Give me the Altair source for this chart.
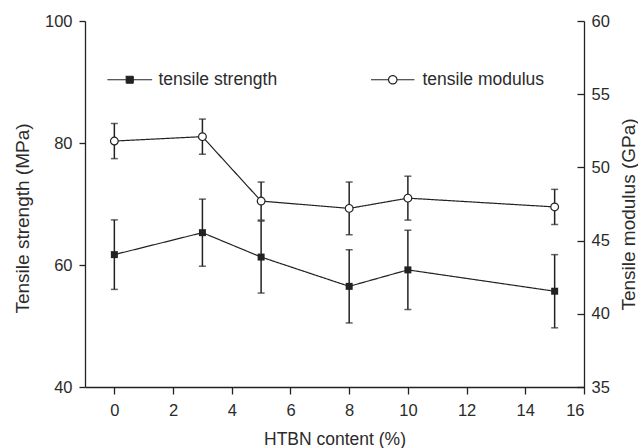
import altair as alt
import pandas as pd

# HTBN loading (%) and measured tensile properties
content = [0, 3, 5, 8, 10, 15]
strength = [61.7, 65.3, 61.3, 56.5, 59.2, 55.7]        # MPa
strength_err = [5.7, 5.5, 5.9, 6.0, 6.5, 6.0]
modulus = [51.8, 52.1, 47.7, 47.2, 47.9, 47.3]         # GPa
modulus_err = [1.2, 1.2, 1.3, 1.8, 1.5, 1.2]

x_ticks = [0, 2, 4, 6, 8, 10, 12, 14, 16]
strength_ticks = [40, 60, 80, 100]
modulus_ticks = [35, 40, 45, 50, 55, 60]

INK = "#222222"
TEXT = "#2b2b2b"
FONT = "Liberation Sans"
W, H = 499, 366

df = pd.DataFrame({
    "content": content,
    "strength": strength,
    "strength_err": strength_err,
    "modulus": modulus,
    "modulus_err": modulus_err,
    "s_name": ["tensile strength"] * len(content),
    "m_name": ["tensile modulus"] * len(content),
})

# legend glyphs: a short line with the marker in the middle
SQUARE_KEY = "M-6.4,0H6.4M-1,-1H1V1H-1Z"
CIRCLE_KEY = ("M-6.2,0H-1.2M1.2,0H6.2M1.2,0"
              "A1.2,1.2,0,1,1,-1.2,0A1.2,1.2,0,1,1,1.2,0Z")

axis_common = dict(
    grid=False,
    domainColor=INK, domainWidth=1.3,
    tickColor=INK, tickWidth=1.3,
    labelFont=FONT, labelFontSize=16.5, labelColor=TEXT,
    titleFont=FONT, titleFontWeight="normal", titleColor=TEXT,
)

x_enc = alt.X(
    "content:Q",
    scale=alt.Scale(domain=[-1, 16], nice=False, zero=False),
    axis=alt.Axis(
        values=x_ticks, title="HTBN content (%)", tickSize=7, labelPadding=8,
        titleFontSize=17.5, titleY=52, titleBaseline="middle", **axis_common,
    ),
)

base = alt.Chart(df)


def legend_for(path, lx, offset, fill):
    return alt.Legend(
        title=None, orient="none", legendX=lx, legendY=50, padding=0,
        symbolType=path, symbolSize=49, symbolStrokeColor=INK,
        symbolFillColor=fill, symbolStrokeWidth=1.2, labelOffset=offset,
        labelFont=FONT, labelFontSize=17.5, labelColor=TEXT,
    )


def series_layer(value, err, name, scale, axis, point, key, lx, offset, key_fill):
    """Error bars, connecting line and markers for one property."""
    bars = base.transform_calculate(
        lo=f"datum.{value} - datum.{err}",
        hi=f"datum.{value} + datum.{err}",
    )
    rule = bars.mark_rule(color=INK, strokeWidth=1.5).encode(
        x=x_enc, y=alt.Y("lo:Q", scale=scale, axis=axis), y2="hi:Q")
    cap_lo = bars.mark_tick(color=INK, thickness=1.5, size=7, orient="horizontal").encode(
        x=x_enc, y=alt.Y("lo:Q", scale=scale, axis=axis))
    cap_hi = bars.mark_tick(color=INK, thickness=1.5, size=7, orient="horizontal").encode(
        x=x_enc, y=alt.Y("hi:Q", scale=scale, axis=axis))
    line = base.mark_line(color=INK, strokeWidth=1.2).encode(
        x=x_enc,
        y=alt.Y(f"{value}:Q", scale=scale, axis=axis),
        strokeDash=alt.StrokeDash(
            f"{name}:N",
            scale=alt.Scale(range=[[1, 0]]),
            legend=legend_for(key, lx, offset, key_fill),
        ),
    )
    pts = point.encode(x=x_enc, y=alt.Y(f"{value}:Q", scale=scale, axis=axis))
    return alt.layer(rule, cap_lo, cap_hi, line, pts)


# ---- tensile strength (left axis) ----
s_scale = alt.Scale(domain=[40, 100], nice=False, zero=False)
s_axis = alt.Axis(
    orient="left", values=strength_ticks, title="Tensile strength (MPa)",
    tickSize=6, labelPadding=7, titleFontSize=19, titleAngle=-90,
    titleX=-63, titleY=197, titleAlign="center", titleBaseline="middle",
    **axis_common,
)
strength_layer = series_layer(
    "strength", "strength_err", "s_name", s_scale, s_axis,
    base.mark_square(color=INK, size=49, opacity=1),
    SQUARE_KEY, 36, 20, INK,
)

# ---- tensile modulus (right axis) ----
m_scale = alt.Scale(domain=[35, 60], nice=False, zero=False)
m_axis = alt.Axis(
    orient="right", values=modulus_ticks, title="Tensile modulus (GPa)",
    ticks=False, tickSize=0, labelPadding=7, titleFontSize=19, titleAngle=-90,
    titleX=44, titleY=193, titleAlign="center", titleBaseline="middle",
    **axis_common,
)
modulus_layer = series_layer(
    "modulus", "modulus_err", "m_name", m_scale, m_axis,
    base.mark_circle(fill="white", stroke=INK, strokeWidth=1.2, size=60, opacity=1),
    CIRCLE_KEY, 299, 21, "white",
)

# inward-facing ticks on the right-hand modulus axis
m_ticks_in = base.mark_point(opacity=0).encode(
    x=x_enc,
    y=alt.Y(
        "modulus:Q", scale=m_scale,
        axis=alt.Axis(
            orient="left", offset=-W, values=modulus_ticks, labels=False,
            domain=False, title=None, tickSize=7, grid=False,
            tickColor=INK, tickWidth=1.3,
        ),
    ),
)

chart = (
    alt.layer(strength_layer, modulus_layer, m_ticks_in)
    .resolve_scale(y="independent", strokeDash="independent")
    .properties(
        width=W, height=H,
        autosize=alt.AutoSizeParams(type="none"),
        padding={"left": 85, "top": 21, "right": 54, "bottom": 61},
        background="white",
    )
    .configure_view(stroke=None)
)

chart.save("out.html", embed_options={"renderer": "svg", "actions": False})
